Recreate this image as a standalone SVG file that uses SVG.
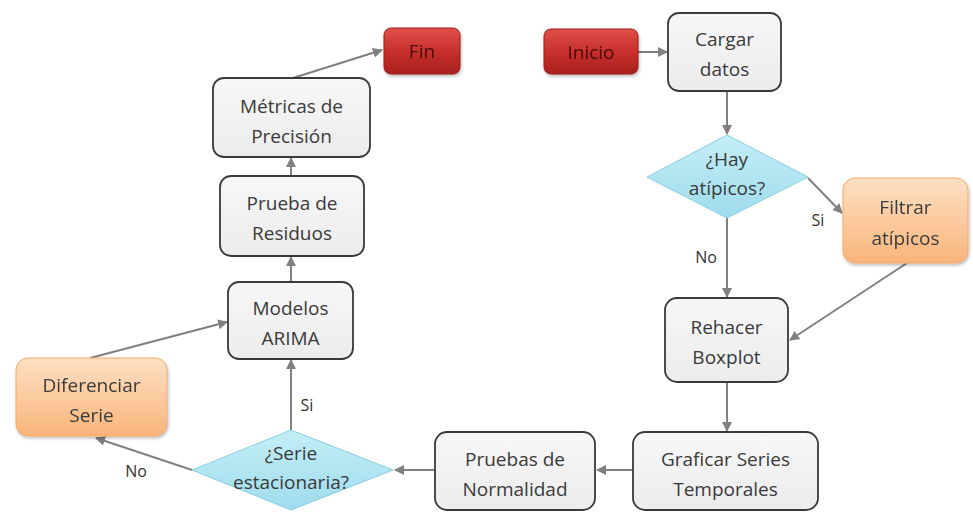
<svg xmlns="http://www.w3.org/2000/svg" width="973" height="512" viewBox="0 0 973 512">
<defs>
<linearGradient id="gGray" x1="0" y1="0" x2="0" y2="1"><stop offset="0" stop-color="#f7f7f7"/><stop offset="1" stop-color="#ececec"/></linearGradient>
<linearGradient id="gRed" x1="0" y1="0" x2="0" y2="1"><stop offset="0" stop-color="#e0504a"/><stop offset="0.5" stop-color="#c8302c"/><stop offset="1" stop-color="#a8201e"/></linearGradient>
<linearGradient id="gOrange" x1="0" y1="0" x2="0" y2="1"><stop offset="0" stop-color="#fde0c4"/><stop offset="1" stop-color="#f9b57a"/></linearGradient>
<linearGradient id="gBlue" x1="0" y1="0" x2="0" y2="1"><stop offset="0" stop-color="#c4eef7"/><stop offset="1" stop-color="#9fdcec"/></linearGradient>
<filter id="sh" x="-10%" y="-10%" width="130%" height="130%"><feDropShadow dx="1" dy="2" stdDeviation="1.5" flood-color="#000" flood-opacity="0.25"/></filter>
<marker id="ah" markerWidth="10" markerHeight="10" refX="9" refY="5" orient="auto" markerUnits="userSpaceOnUse"><path d="M0,0 L10,5 L0,10 Z" fill="#808080"/></marker>
</defs>
<style>
.box{fill:url(#gGray);stroke:#3a3a3a;stroke-width:1.8}
.red{fill:url(#gRed);stroke:#9a1c1a;stroke-width:1}
.ora{fill:url(#gOrange);stroke:#f5a96a;stroke-width:1}
.dia{fill:url(#gBlue);stroke:#86cfe0;stroke-width:1}
text{font-family:"Open Sans","Liberation Sans",sans-serif;font-size:19px;fill:#3a3a3a;text-anchor:middle}
.rt{fill:#4a0808}
.lbl{font-size:16px;fill:#333}
.c{fill:none;stroke:#808080;stroke-width:2;marker-end:url(#ah)}
</style>
<rect width="973" height="512" fill="#fff"/>
<g id="connectors">
<line class="c" x1="638" y1="52" x2="667" y2="52"/>
<line class="c" x1="727" y1="91" x2="727" y2="134"/>
<line class="c" x1="808" y1="178" x2="842" y2="213"/>
<line class="c" x1="727" y1="217" x2="727" y2="297"/>
<line class="c" x1="907" y1="263" x2="790" y2="340"/>
<line class="c" x1="727" y1="382" x2="727" y2="431"/>
<line class="c" x1="633" y1="470" x2="597" y2="470"/>
<line class="c" x1="435" y1="470" x2="395" y2="470"/>
<line class="c" x1="291" y1="430" x2="291" y2="360"/>
<line class="c" x1="192" y1="470" x2="96" y2="438"/>
<line class="c" x1="90" y1="358" x2="227" y2="322"/>
<line class="c" x1="291" y1="282" x2="291" y2="257"/>
<line class="c" x1="291" y1="176" x2="291" y2="158"/>
<line class="c" x1="293" y1="78" x2="382" y2="50"/>
<text class="lbl" x="818" y="226">Si</text>
<text class="lbl" x="706" y="263">No</text>
<text class="lbl" x="307" y="411">Si</text>
<text class="lbl" x="136" y="477">No</text>
</g>
<g id="inicio" filter="url(#sh)"><rect class="red" x="544" y="29" width="94" height="45" rx="7"/><text class="rt" x="591" y="59">Inicio</text></g>
<g id="cargar"><rect class="box" x="668" y="13" width="113" height="78" rx="11"/><text x="724.5" y="46">Cargar</text><text x="724.5" y="76">datos</text></g>
<g id="hay"><polygon class="dia" points="727,135 808,177 727,218 647,177"/><text x="727" y="166">¿Hay</text><text x="727" y="195">atípicos?</text></g>
<g id="filtrar" filter="url(#sh)"><rect class="ora" x="843" y="178" width="125" height="85" rx="12"/><text x="905.5" y="214">Filtrar</text><text x="905.5" y="245">atípicos</text></g>
<g id="rehacer"><rect class="box" x="665" y="298" width="123" height="84" rx="12"/><text x="726.5" y="334">Rehacer</text><text x="726.5" y="364">Boxplot</text></g>
<g id="graficar"><rect class="box" x="633" y="432" width="185" height="78" rx="12"/><text x="725.5" y="466">Graficar Series</text><text x="725.5" y="496">Temporales</text></g>
<g id="pruebas"><rect class="box" x="435" y="432" width="160" height="78" rx="12"/><text x="515" y="466">Pruebas de</text><text x="515" y="496">Normalidad</text></g>
<g id="serie"><polygon class="dia" points="291,430 393,470 291,510 192,470"/><text x="291" y="460">¿Serie</text><text x="291" y="489">estacionaria?</text></g>
<g id="diferenciar" filter="url(#sh)"><rect class="ora" x="16" y="358" width="151" height="78" rx="12"/><text x="91.5" y="392">Diferenciar</text><text x="91.5" y="422">Serie</text></g>
<g id="modelos"><rect class="box" x="228" y="282" width="125" height="77" rx="11"/><text x="290.5" y="315">Modelos</text><text x="290.5" y="345">ARIMA</text></g>
<g id="prueba"><rect class="box" x="220" y="176" width="144" height="80" rx="11"/><text x="292" y="210">Prueba de</text><text x="292" y="240">Residuos</text></g>
<g id="metricas"><rect class="box" x="213" y="78" width="157" height="79" rx="11"/><text x="291.5" y="113">Métricas de</text><text x="291.5" y="143">Precisión</text></g>
<g id="fin" filter="url(#sh)"><rect class="red" x="384" y="28" width="76" height="46" rx="7"/><text class="rt" x="422" y="58">Fin</text></g>
</svg>
